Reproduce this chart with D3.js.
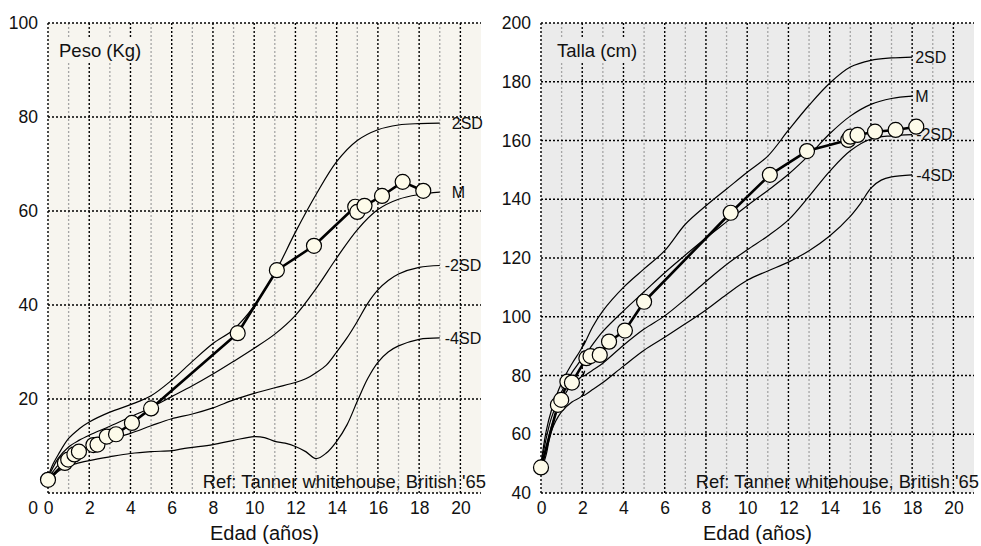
<!DOCTYPE html>
<html lang="es">
	<head>
		<meta charset="utf-8">
		<title>Peso y talla - Tanner Whitehouse</title>
		<script type="text/javascript" src="https://cdn.jsdelivr.net/npm/d3@7"></script>
		<style type="text/css">
			body {
				margin: 0;
				background: #fff;
			}
			text {
				font-family: "Liberation Sans", Arial, Helvetica, sans-serif;
				fill: #111;
			}
		</style>
	</head>
	<body>
		<script type="text/javascript">

			//Width and height
			var w = 981;
			var h = 546;

			//Tick labels
			var edadTicks = [0, 2, 4, 6, 8, 10, 12, 14, 16, 18, 20];
			var pesoTicks = [0, 20, 40, 60, 80, 100];
			var tallaTicks = [40, 60, 80, 100, 120, 140, 160, 180, 200];
			var curvaNombres = ["2SD", "M", "-2SD", "-4SD"];

			//Patient visits (age in years)
			var edadVisitas = [0, 0.82, 0.98, 1.28, 1.5, 2.2, 2.4, 2.85, 3.3, 4.07, 5.0,
							   9.2, 11.1, 12.9, 14.9, 15.0, 15.35, 16.2, 17.2, 18.2];
			var pesoPaciente = [2.8, 6.4, 7.1, 8.2, 8.8, 10.2, 10.3, 12.0, 12.5, 14.9, 18.0,
								34.0, 47.4, 52.6, 60.9, 59.8, 61.1, 63.2, 66.2, 64.3];
			var tallaPaciente = [48.7, 70.0, 71.7, 77.9, 77.6, 85.9, 86.6, 87.0, 91.5, 95.3, 105.1,
								 135.4, 148.3, 156.4, 160.2, 161.3, 161.9, 163.0, 163.6, 164.7];

			//Reference curves, weight [age, kg]
			var peso2SD = [[0,3.5],[0.25,6.2],[0.5,8.2],[1,11.6],[1.5,13.6],[2,15.1],[3,17.2],[4,18.8],
						   [5,20.7],[6,24],[7,28],[8,31.8],[9,34.8],[10,39.8],[11,46.8],[12,55.5],
						   [13,63.5],[14,70.5],[15,75],[16,77.3],[17,78.3],[18,78.6],[19,78.7]];
			var pesoM = [[0,3.3],[0.25,5.5],[0.5,7.4],[1,9.8],[1.5,11.2],[2,12.3],[3,14.2],[4,16.2],
						 [5,18.2],[6,20.5],[7,22.8],[8,25.3],[9,28],[10,30.8],[11,33.8],[12,37.8],
						 [13,43.5],[14,50],[15,56],[16,60.3],[17,62.5],[18,63.5],[19,64]];
			var pesoMenos2SD = [[0,3.0],[0.25,4.6],[0.5,6.0],[1,7.9],[1.5,9.0],[2,10.0],[3,11.4],[4,12.7],
								[5,14.3],[6,15.8],[7,16.8],[8,18.1],[9,19.8],[10,21.2],[11,22.4],[12,23.5],
								[12.5,24.3],[13,25.6],[13.5,27.2],[14,30],[14.5,33],[15,36.5],[15.5,40.3],
								[16,43.2],[16.5,45.2],[17,46.6],[18,48],[19,48.4]];
			var pesoMenos4SD = [[0,2.7],[0.25,3.6],[0.5,4.6],[1,5.8],[1.5,6.4],[2,6.9],[3,7.7],[4,8.4],
								[5,8.8],[6,9.0],[6.5,9.4],[7,9.7],[8,10.3],[9,11.2],[10,12.0],[10.5,11.8],
								[11,11.0],[11.5,10.6],[12,9.9],[12.5,8.8],[13,7.3],[13.5,8.5],[14,11.0],
								[14.5,14.5],[15,19.5],[15.5,24.3],[16,27.8],[16.5,30],[17,31.3],[18,32.7],[19,33.0]];

			//Reference curves, height [age, cm]
			var talla2SD = [[0,50],[0.25,61],[0.5,68],[1,77.5],[1.5,84],[1.95,89],[2.12,91.8],[2.05,90],
							[2.5,96.5],[3,102],[4,110],[5,116.3],[6,122.5],[7,131.5],[8,137.8],[9,143.5],
							[10,149.2],[11,154.7],[12,163.5],[13,172],[14,179.5],[15,185],[16,187.3],
							[17,188.1],[18,188.4]];
			var tallaM = [[0,49.5],[0.25,58.5],[0.5,65.5],[1,74.5],[1.5,81],[1.95,85.5],[2.12,88],[2.05,86.3],
						  [2.5,90.5],[3,95],[4,102],[5,108.5],[6,115],[7,121],[8,126.8],[9,132.3],
						  [10,137.8],[11,143],[12,148.5],[13,155],[14,162.3],[15,168.3],[16,172.3],
						  [17,174.3],[18,175.1]];
			var tallaMenos2SD = [[0,48.5],[0.25,55],[0.5,62.5],[1,71.5],[1.5,77],[1.95,79.5],[2.12,81.5],
								 [2.05,79.8],[2.5,81.8],[3,84.2],[4,90.3],[5,95.8],[6,100.3],[7,106],[8,112],
								 [9,117.8],[10,122.8],[11,127.5],[12,133],[13,141],[14,149.5],[15,156.5],
								 [16,160.5],[17,161.6],[18,162]];
			var tallaMenos4SD = [[0,47.5],[0.25,53],[0.5,61],[1,67.7],[1.5,71],[1.95,72.8],[2.12,74.8],
								 [2.05,73.2],[2.5,75.2],[3,77.6],[4,83.2],[5,88.6],[6,93],[7,97.6],[8,102.3],
								 [9,107.6],[10,112.4],[11,115.6],[12,118.6],[13,122.5],[14,127.5],[15,134.2],
								 [15.5,138.6],[16,143.8],[16.5,146.5],[17,147.6],[18,148.3]];

			//Create SVG element
			var svg = d3.select("body")
						.append("svg")
						.attr("width", w)
						.attr("height", h);

			var plotTop = 23;
			var plotBottom = 493;

			function drawPanel(opt) {
				var g = svg.append("g");

				var xScale = d3.scaleLinear()
								.domain([0, 21])
								.range([opt.left, opt.left + 433]);

				var yScale = d3.scaleLinear()
								.domain(opt.yDomain)
								.range([plotBottom, plotTop]);

				//Background
				g.append("rect")
				 .attr("x", xScale(0))
				 .attr("y", plotTop)
				 .attr("width", xScale(21) - xScale(0))
				 .attr("height", plotBottom - plotTop)
				 .attr("fill", opt.bg);

				//Grid: odd years grey, even years black
				g.selectAll("line.minor")
				 .data(d3.range(1, 20, 2))
				 .enter()
				 .append("line")
				 .attr("class", "minor")
				 .attr("x1", function(d) { return xScale(d); })
				 .attr("x2", function(d) { return xScale(d); })
				 .attr("y1", plotTop)
				 .attr("y2", plotBottom)
				 .attr("stroke", "#a5a5a5")
				 .attr("stroke-width", 1.3)
				 .attr("stroke-dasharray", "2,2");

				g.selectAll("line.vmajor")
				 .data(edadTicks)
				 .enter()
				 .append("line")
				 .attr("class", "vmajor")
				 .attr("x1", function(d) { return xScale(d); })
				 .attr("x2", function(d) { return xScale(d); })
				 .attr("y1", plotTop)
				 .attr("y2", plotBottom)
				 .attr("stroke", "#000")
				 .attr("stroke-width", 1.4)
				 .attr("stroke-dasharray", "2,2");

				g.selectAll("line.hmajor")
				 .data(opt.yTicks)
				 .enter()
				 .append("line")
				 .attr("class", "hmajor")
				 .attr("x1", xScale(0))
				 .attr("x2", xScale(21))
				 .attr("y1", function(d) { return yScale(d); })
				 .attr("y2", function(d) { return yScale(d); })
				 .attr("stroke", "#000")
				 .attr("stroke-width", 1.4)
				 .attr("stroke-dasharray", "2,2");

				//Panel title with a box that hides the grid
				var title = g.append("text")
							 .attr("x", xScale(0) + opt.titleDx)
							 .attr("y", 57)
							 .attr("font-size", "18.5px")
							 .text(opt.title);
				var bb = title.node().getBBox();
				g.insert("rect", function() { return title.node(); })
				 .attr("x", bb.x - 4)
				 .attr("y", bb.y - 3)
				 .attr("width", bb.width + 8)
				 .attr("height", bb.height + 5)
				 .attr("fill", opt.bg);

				//Reference curves
				var curve = d3.line()
							  .x(function(d) { return xScale(d[0]); })
							  .y(function(d) { return yScale(d[1]); })
							  .curve(d3.curveCatmullRom.alpha(0.5));

				g.selectAll("path.ref")
				 .data(opt.curves)
				 .enter()
				 .append("path")
				 .attr("class", "ref")
				 .attr("d", curve)
				 .attr("fill", "none")
				 .attr("stroke", "#000")
				 .attr("stroke-width", 1.2);

				//Curve labels
				g.selectAll("text.lab")
				 .data(opt.curves)
				 .enter()
				 .append("text")
				 .attr("class", "lab")
				 .attr("x", function(d, i) {
				 	var last = d[d.length - 1];
				 	var name = curvaNombres[i];
				 	return xScale(last[0]) + (name.charAt(0) == "-" ? opt.negDx : opt.posDx);
				 })
				 .attr("y", function(d) { return yScale(d[d.length - 1][1]); })
				 .attr("dy", "0.36em")
				 .attr("font-size", "16px")
				 .text(function(d, i) { return curvaNombres[i]; });

				//Patient line and points
				var pts = edadVisitas.map(function(a, i) { return [a, opt.patient[i]]; });

				g.append("path")
				 .datum(pts)
				 .attr("d", d3.line()
				 			  .x(function(d) { return xScale(d[0]); })
				 			  .y(function(d) { return yScale(d[1]); }))
				 .attr("fill", "none")
				 .attr("stroke", "#000")
				 .attr("stroke-width", 2.6)
				 .attr("stroke-linejoin", "round");

				g.selectAll("circle")
				 .data(pts)
				 .enter()
				 .append("circle")
				 .attr("cx", function(d) { return xScale(d[0]); })
				 .attr("cy", function(d) { return yScale(d[1]); })
				 .attr("r", 7.5)
				 .attr("fill", "#fdfbea")
				 .attr("stroke", "#000")
				 .attr("stroke-width", 1.2);

				//Source note
				g.append("text")
				 .attr("x", xScale(21) + 5)
				 .attr("y", 488)
				 .attr("text-anchor", "end")
				 .attr("font-size", "18.4px")
				 .text("Ref: Tanner whitehouse, British '65");

				//Axes
				var xAxis = d3.axisBottom(xScale)
							  .tickValues(edadTicks)
							  .tickSize(0)
							  .tickPadding(9);

				var gx = g.append("g")
						  .attr("transform", "translate(0," + plotBottom + ")")
						  .call(xAxis);
				gx.select(".domain").remove();
				gx.selectAll("text")
				  .attr("font-size", "17.5px")
				  .attr("font-family", "'Liberation Sans', Arial, sans-serif")
				  .attr("fill", "#111");

				var yAxis = d3.axisLeft(yScale)
							  .tickValues(opt.yTicks)
							  .tickSize(0)
							  .tickPadding(10);

				var gy = g.append("g")
						  .attr("transform", "translate(" + xScale(0) + ",0)")
						  .call(yAxis);
				gy.select(".domain").remove();
				gy.selectAll("text")
				  .attr("font-size", "17.5px")
				  .attr("font-family", "'Liberation Sans', Arial, sans-serif")
				  .attr("fill", "#111");
				if (opt.dropZero) {
					gy.selectAll(".tick")
					  .filter(function(d) { return d === 0; })
					  .select("text")
					  .attr("y", 15);
				}

				g.append("text")
				 .attr("x", (xScale(0) + xScale(21)) / 2)
				 .attr("y", 540)
				 .attr("text-anchor", "middle")
				 .attr("font-size", "20px")
				 .text("Edad (años)");
			}

			drawPanel({
				left: 48,
				yDomain: [0, 100],
				yTicks: pesoTicks,
				bg: "#f7f5ef",
				title: "Peso (Kg)",
				titleDx: 11,
				curves: [peso2SD, pesoM, pesoMenos2SD, pesoMenos4SD],
				patient: pesoPaciente,
				posDx: 12,
				negDx: 5,
				dropZero: true
			});

			drawPanel({
				left: 541,
				yDomain: [40, 200],
				yTicks: tallaTicks,
				bg: "#ebebeb",
				title: "Talla (cm)",
				titleDx: 16,
				curves: [talla2SD, tallaM, tallaMenos2SD, tallaMenos4SD],
				patient: tallaPaciente,
				posDx: 3,
				negDx: 4,
				dropZero: false
			});

		</script>
	</body>
</html>
